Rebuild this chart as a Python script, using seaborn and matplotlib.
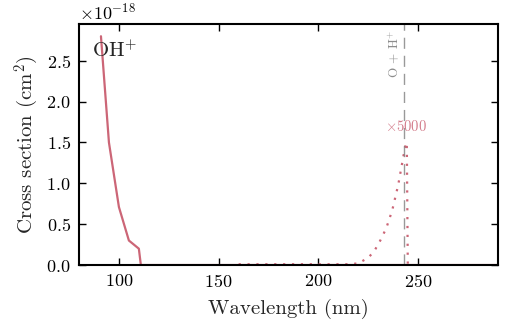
import numpy as np
import pandas as pd
import matplotlib
matplotlib.use("Agg")
import matplotlib.pyplot as plt
import seaborn as sns

# Data (cross sections in cm^2)
solid_wl = [91, 95, 100, 105, 110, 111, 290]
solid_cs = [2.80e-18, 1.50e-18, 0.71e-18, 0.30e-18, 0.20e-18, 0.0, 0.0]

dotted_wl = [160, 170, 180, 190, 200, 210, 215, 220, 225, 228, 231, 234, 237, 240, 242, 243.5, 244.3, 244.8]
dotted_cs = [0.01, 0.01, 0.01, 0.01, 0.01, 0.01, 0.01, 0.02, 0.09, 0.17, 0.30, 0.45, 0.67, 0.98, 1.25, 1.45, 1.50, 0.0]
dotted_cs = [v * 1e-18 / 5000 for v in dotted_cs]
scale = 5000

threshold_wl = 243.0
threshold_label = "O + H$^{+}$"
species = "OH$^{+}$"

sns.set_style("ticks")
plt.rcParams.update({
    "font.family": ["cmr10", "DejaVu Serif"],
    "mathtext.fontset": "cm",
    "axes.formatter.use_mathtext": True,
    "axes.unicode_minus": True,
    "xtick.direction": "in",
    "ytick.direction": "in",
    "xtick.top": True,
    "ytick.right": True,
    "xtick.major.size": 5,
    "ytick.major.size": 5,
    "xtick.major.width": 1.0,
    "ytick.major.width": 1.0,
    "xtick.major.pad": 6,
    "ytick.major.pad": 6,
    "axes.linewidth": 1.5,
    "axes.edgecolor": "black",
    "xtick.color": "black",
    "ytick.color": "black",
})

color = "#CC6677"

fig = plt.figure(figsize=(5.25, 3.24), dpi=100)
ax = fig.add_axes([0.1505, 0.182, 0.798, 0.744])

df1 = pd.DataFrame({"wl": solid_wl, "cs": solid_cs})
df2 = pd.DataFrame({"wl": dotted_wl, "cs": [v * scale for v in dotted_cs]})

sns.lineplot(data=df1, x="wl", y="cs", ax=ax, color=color, lw=1.6, sort=False)
sns.lineplot(data=df2, x="wl", y="cs", ax=ax, color=color, lw=1.6, sort=False,
             linestyle=(0, (1, 3)))

ax.axvline(threshold_wl, color="gray", lw=1.0, ls=(0, (8, 5)), alpha=0.8)
ax.text(threshold_wl - 1.2, 2.88e-18, threshold_label, rotation=90, ha="right", va="top",
        color="gray", fontsize=9.5, alpha=0.9)
ax.text(244, 1.69e-18, r"$\times$5000", ha="center", va="center", color=color,
        fontsize=10.5, alpha=0.85)
ax.text(0.03, 0.935, species, transform=ax.transAxes, ha="left", va="top", fontsize=15)

ax.set_xlim(80, 290)
ax.set_ylim(0, 2.95e-18)
ax.set_xticks([100, 150, 200, 250])
ax.set_yticks([0, 0.5e-18, 1.0e-18, 1.5e-18, 2.0e-18, 2.5e-18])
ax.tick_params(labelsize=13)
ax.yaxis.get_offset_text().set_fontsize(13)
ax.set_xlabel("Wavelength (nm)", fontsize=15, labelpad=6)
ax.set_ylabel("Cross section (cm$^2$)", fontsize=15, labelpad=4)

fig.savefig("out.png", dpi=100)
